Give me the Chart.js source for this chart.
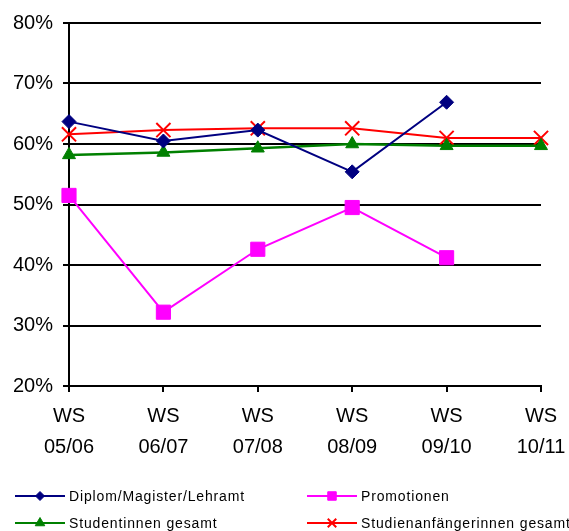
<!DOCTYPE html>
<html><head><meta charset="utf-8">
<script src="https://cdn.jsdelivr.net/npm/chart.js@4"></script>
<style>html,body{margin:0;padding:0;background:#fff}#wrap{width:569px;height:531px;position:relative}</style>
</head><body><div id="wrap"><canvas id="c"></canvas></div>
<script>
const categories = [['WS','05/06'],['WS','06/07'],['WS','07/08'],['WS','08/09'],['WS','09/10'],['WS','10/11']];
const seriesNames = ['Diplom/Magister/Lehramt','Promotionen','Studentinnen gesamt','Studienanfängerinnen gesamt'];
const diplom = [63.7, 60.5, 62.3, 55.4, 66.9, null];
const promotionen = [51.5, 32.2, 42.6, 49.5, 41.2, null];
const studentinnen = [58.2, 58.6, 59.3, 60.0, 59.7, 59.7];
const anfaengerinnen = [61.6, 62.3, 62.6, 62.6, 61.0, 61.0];
const yTicks = [20, 30, 40, 50, 60, 70, 80];

const FONT = "'Liberation Sans', Arial, sans-serif";

const styles = [
  {color:'#000080', pointStyle:'rectRot', radius:7, legendRadius:4.5, bw:1},
  {color:'#FF00FF', pointStyle:'rect', radius:10, legendRadius:6, bw:1},
  {color:'#008000', pointStyle:'triangle', radius:7.5, legendRadius:5.5, bw:1},
  {color:'#FF0000', pointStyle:'crossRot', radius:10, legendRadius:6, bw:2}
];
const values = [diplom, promotionen, studentinnen, anfaengerinnen];

const datasets = values.map((v,i)=>({
  label: seriesNames[i],
  data: v,
  borderColor: styles[i].color,
  backgroundColor: styles[i].color,
  pointBackgroundColor: styles[i].color,
  pointBorderColor: styles[i].color,
  pointStyle: styles[i].pointStyle,
  pointRadius: styles[i].radius,
  pointBorderWidth: styles[i].bw,
  borderWidth: i===2 ? 2.5 : 2,
  tension: 0,
  spanGaps: false
}));

const legendPlugin = {
  id:'customLegend',
  afterDraw(chart){
    const ctx = chart.ctx;
    const xs = [15, 307], ys = [496, 523];
    chart.data.datasets.forEach((ds,i)=>{
      const x0 = xs[i%2], y = ys[Math.floor(i/2)];
      ctx.save();
      ctx.strokeStyle = ds.borderColor; ctx.lineWidth = 2;
      ctx.beginPath(); ctx.moveTo(x0,y); ctx.lineTo(x0+50,y); ctx.stroke();
      ctx.fillStyle = ds.pointBackgroundColor; ctx.strokeStyle = ds.pointBorderColor;
      ctx.lineWidth = ds.pointBorderWidth;
      Chart.helpers.drawPoint(ctx, {pointStyle: ds.pointStyle, radius: styles[i].legendRadius, rotation:0, borderWidth: ds.pointBorderWidth}, x0+25, y);
      ctx.fillStyle = '#000';
      ctx.font = "14px " + FONT;
      if ('letterSpacing' in ctx) ctx.letterSpacing = '0.85px';
      ctx.textBaseline = 'middle';
      ctx.textAlign = 'left';
      ctx.fillText(ds.label, x0+54, y+1);
      ctx.restore();
    });
  }
};

new Chart(document.getElementById('c'), {
  type:'line',
  data:{labels:categories, datasets},
  plugins:[legendPlugin],
  options:{
    responsive:true, maintainAspectRatio:false, animation:false,
    layout:{padding:{left:0,right:28,top:23,bottom:75}},
    plugins:{legend:{display:false}, tooltip:{enabled:false}},
    scales:{
      x:{
        offset:false,
        grid:{display:true, drawOnChartArea:false, drawTicks:true, tickLength:6, color:'#000', lineWidth:2},
        border:{display:true, color:'#000', width:2},
        ticks:{color:'#000', font:{family:FONT, size:20, lineHeight:1.55}, maxRotation:0, autoSkip:false, padding:9},
        afterFit(s){ s.height = 70; s.paddingLeft = 0; s.paddingRight = 0; }
      },
      y:{
        min:20, max:80,
        afterBuildTicks(s){ s.ticks = yTicks.map(v=>({value:v})); },
        grid:{color:'#000', lineWidth:2, tickLength:6, drawTicks:true},
        border:{display:true, color:'#000', width:2},
        ticks:{color:'#000', font:{family:FONT, size:20}, padding:10, callback:v=>v+'%'},
        afterFit(s){ s.width = 69; s.paddingTop = 0; s.paddingBottom = 0; }
      }
    }
  }
});
</script></body></html>
